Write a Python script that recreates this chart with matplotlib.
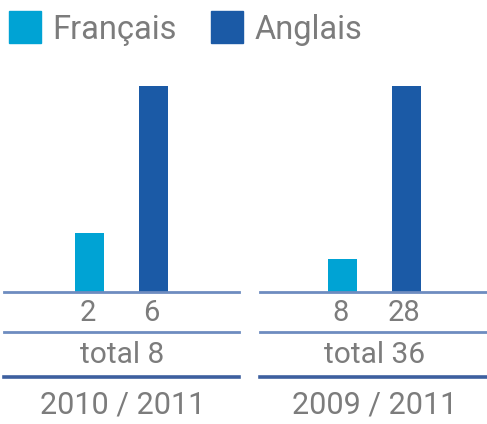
import numpy as np
import matplotlib
matplotlib.use("Agg")
import matplotlib.pyplot as plt
from matplotlib.lines import Line2D
from matplotlib.patches import Rectangle

# data
series = ["Français", "Anglais"]
colors = ["#00a3d4", "#1b5aa6"]
periods = ["2010 / 2011", "2009 / 2011"]
francais = [2, 8]
anglais = [6, 28]
totals = [8, 36]

W, H = 487, 424
TXT = "#7c7c7c"
FONT = "Roboto"

fig = plt.figure(figsize=(W / 100, H / 100), dpi=100)


def fx(px):
    return px / W


def fy(py):
    return 1 - py / H


# panel geometry in pixels
panels = [(4, 239), (260, 487)]
# visible value at the baseline (bars start below the rule)
ybottoms = [0.4, 4.2]
ytops = [6.16, 28.7]
BASE, TOP = 292, 80

for i, (x0, x1) in enumerate(panels):
    ax = fig.add_axes([fx(x0), fy(BASE), fx(x1 - x0), (BASE - TOP) / H])
    mid = (x0 + x1) / 2 + (0 if i == 0 else 1)
    spacing = 63.5
    left = 0.5 - (mid - x0) / spacing
    right = 0.5 + (x1 - mid) / spacing
    vals = [francais[i], anglais[i]]
    ax.bar([0, 1], vals, width=0.45, color=colors, bottom=0)
    ax.set_xlim(left, right)
    ax.set_ylim(ybottoms[i], ytops[i])
    ax.axis("off")

    # value labels
    for j, v in enumerate(vals):
        xp = x0 + (j - left) / (right - left) * (x1 - x0)
        fig.text(fx(xp - 2), fy(313), str(v), ha="center", va="center",
                 fontsize=21, color=TXT, family=FONT)

    cx = (x0 + x1) / 2 + 1
    fig.text(fx(cx), fy(355), f"total {totals[i]}", ha="center", va="center",
             fontsize=21.5, color=TXT, family=FONT)
    fig.text(fx(cx), fy(405), periods[i], ha="center", va="center",
             fontsize=22, color=TXT, family=FONT)

    # rules
    for yp, c, lw in [(292, "#6e8cc0", 2.0), (332, "#6e8cc0", 2.0), (377, "#3d5f9f", 2.6)]:
        fig.add_artist(Line2D([fx(x0), fx(x1)], [fy(yp), fy(yp)], color=c, lw=lw))

# legend
for (sx, tx), name, c in zip([(9, 52), (211, 255)], series, colors):
    fig.add_artist(Rectangle((fx(sx), fy(43)), fx(32), 32 / H, color=c,
                             transform=fig.transFigure))
    fig.text(fx(tx), fy(30), name, ha="left", va="center",
             fontsize=23.5, color=TXT, family=FONT)

fig.savefig("out.png", dpi=100)
